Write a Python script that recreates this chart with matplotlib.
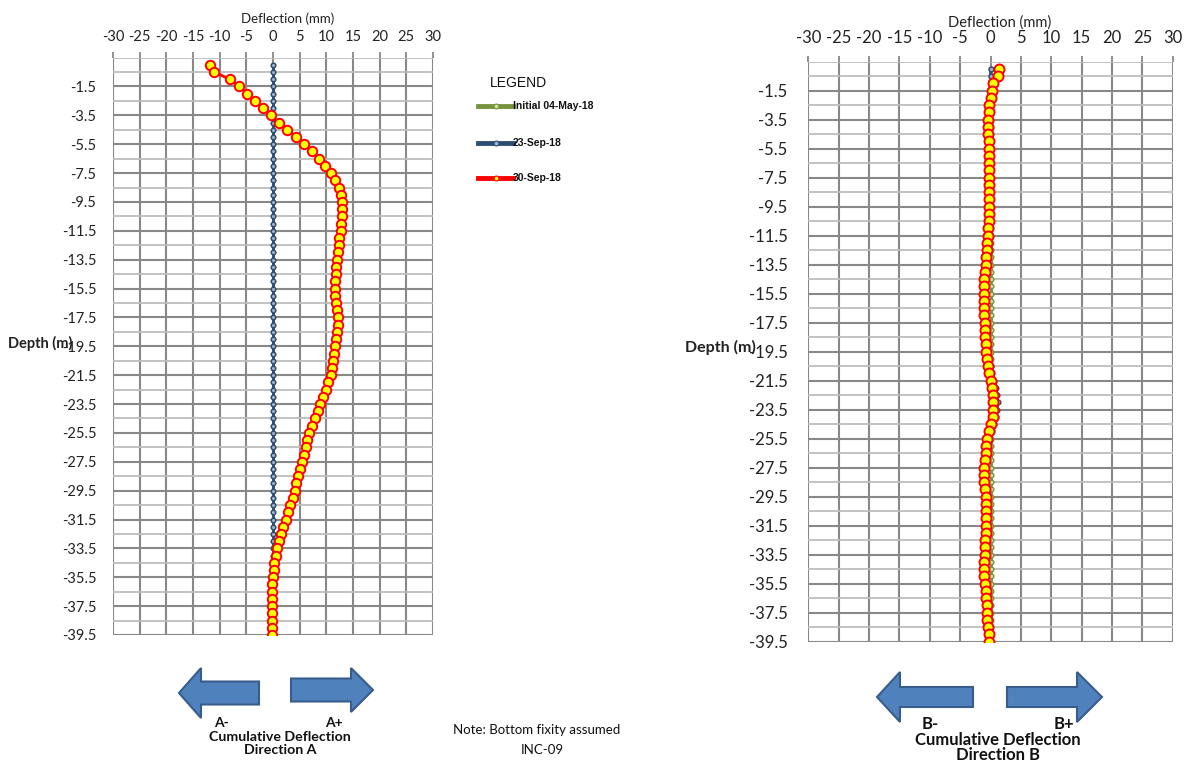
import matplotlib
matplotlib.use("Agg")
import matplotlib.pyplot as plt
from matplotlib import font_manager
from matplotlib.patches import Polygon
from matplotlib.lines import Line2D

names = {f.name for f in font_manager.fontManager.ttflist}
NARROW = [n for n in ["Lato", "Liberation Sans", "DejaVu Sans"] if n in names]
ARIAL = [n for n in ["Liberation Sans", "DejaVu Sans"] if n in names]
plt.rcParams["axes.unicode_minus"] = False

# ---------------- data ----------------
depth = [0.0, -0.5, -1.0, -1.5, -2.0, -2.5, -3.0, -3.5, -4.0, -4.5,
         -5.0, -5.5, -6.0, -6.5, -7.0, -7.5, -8.0, -8.5, -9.0, -9.5,
         -10.0, -10.5, -11.0, -11.5, -12.0, -12.5, -13.0, -13.5, -14.0, -14.5,
         -15.0, -15.5, -16.0, -16.5, -17.0, -17.5, -18.0, -18.5, -19.0, -19.5,
         -20.0, -20.5, -21.0, -21.5, -22.0, -22.5, -23.0, -23.5, -24.0, -24.5,
         -25.0, -25.5, -26.0, -26.5, -27.0, -27.5, -28.0, -28.5, -29.0, -29.5,
         -30.0, -30.5, -31.0, -31.5, -32.0, -32.5, -33.0, -33.5, -34.0, -34.5,
         -35.0, -35.5, -36.0, -36.5, -37.0, -37.5, -38.0, -38.5, -39.0, -39.5]

# Direction A
a_initial = [0.0] * 80
a_sep23 = [0.0] * 80
a_sep30 = [-11.9, -11.0, -8.1, -6.3, -4.8, -3.3, -1.8, -0.4, 1.2, 2.7,
           4.4, 5.9, 7.4, 8.7, 9.7, 10.8, 11.6, 12.4, 12.8, 12.9,
           12.9, 12.9, 12.8, 12.7, 12.4, 12.3, 12.2, 12.0, 11.9, 11.8,
           11.6, 11.6, 11.7, 11.9, 12.0, 12.2, 12.2, 12.0, 11.8, 11.6,
           11.4, 11.3, 11.1, 10.8, 10.4, 9.9, 9.4, 8.9, 8.4, 7.9,
           7.3, 6.8, 6.3, 6.1, 5.8, 5.4, 5.1, 4.7, 4.4, 4.1,
           3.7, 3.2, 2.8, 2.4, 1.9, 1.5, 1.1, 0.8, 0.5, 0.25,
           0.1, -0.05, -0.1, -0.1, -0.1, -0.1, -0.1, -0.1, -0.1, -0.1]

# Direction B
b_initial = [0.0] * 80
b_sep23 = [0.0, 0.0, 0.3, 0.3, 0.2, 0.0, -0.1, -0.15, -0.15, -0.15,
           -0.1, -0.05, -0.05, -0.05, -0.1, -0.1, -0.1, -0.1, -0.1, -0.1,
           -0.1, -0.1, -0.15, -0.2, -0.3, -0.4, -0.5, -0.6, -0.7, -0.8,
           -0.85, -0.9, -0.9, -0.9, -0.8, -0.75, -0.7, -0.65, -0.6, -0.4,
           -0.2, 0.0, 0.3, 0.6, 0.9, 1.1, 1.2, 1.1, 0.9, 0.6,
           0.2, -0.2, -0.5, -0.6, -0.7, -0.8, -0.85, -0.8, -0.7, -0.6,
           -0.55, -0.5, -0.5, -0.55, -0.6, -0.65, -0.7, -0.75, -0.8, -0.85,
           -0.8, -0.7, -0.6, -0.5, -0.4, -0.35, -0.3, -0.25, -0.15, -0.1]
b_sep30 = [1.45, 1.2, 0.4, 0.2, 0.0, -0.2, -0.3, -0.35, -0.35, -0.35,
           -0.3, -0.25, -0.25, -0.25, -0.3, -0.3, -0.3, -0.3, -0.3, -0.3,
           -0.3, -0.3, -0.35, -0.4, -0.5, -0.6, -0.7, -0.8, -0.9, -1.0,
           -1.05, -1.1, -1.1, -1.1, -1.0, -0.95, -0.9, -0.85, -0.8, -0.7,
           -0.5, -0.35, -0.2, 0.0, 0.2, 0.35, 0.45, 0.45, 0.35, 0.15,
           -0.2, -0.5, -0.7, -0.8, -0.9, -1.0, -1.1, -1.0, -0.9, -0.8,
           -0.75, -0.7, -0.7, -0.75, -0.8, -0.85, -0.9, -0.95, -1.0, -1.05,
           -1.0, -0.9, -0.8, -0.7, -0.6, -0.55, -0.5, -0.45, -0.3, -0.2]

x_ticks = [-30, -25, -20, -15, -10, -5, 0, 5, 10, 15, 20, 25, 30]
y_ticks = [-1.5, -3.5, -5.5, -7.5, -9.5, -11.5, -13.5, -15.5, -17.5, -19.5,
           -21.5, -23.5, -25.5, -27.5, -29.5, -31.5, -33.5, -35.5, -37.5, -39.5]
y_minor = [0.5, -0.5, -2.5, -4.5, -6.5, -8.5, -10.5, -12.5, -14.5, -16.5, -18.5,
           -20.5, -22.5, -24.5, -26.5, -28.5, -30.5, -32.5, -34.5, -36.5, -38.5]

series_labels = ["Initial 04-May-18", "23-Sep-18", "30-Sep-18"]

GREEN = "#77933C"
BLUE = "#2C4D75"
RED = "#FF0000"
YELLOW = "#FFFF00"

W, H = 1186, 763
fig = plt.figure(figsize=(W / 100, H / 100), dpi=100)


def px_rect(x0, x1, ytop, ybot):
    return [x0 / W, 1 - ybot / H, (x1 - x0) / W, (ybot - ytop) / H]


def make_panel(rect, init, s23, s30, fs, pad_x, pad_y, ms_red, ms_blue):
    ax = fig.add_axes(rect)
    ax.set_xlim(-30, 30)
    ax.set_ylim(-39.5, 0.5)
    ax.xaxis.tick_top()
    ax.set_xticks(x_ticks)
    ax.set_xticklabels([str(v) for v in x_ticks], fontsize=fs, family=NARROW, color="#222222")
    ax.set_yticks(y_ticks)
    ax.set_yticklabels([f"{v:.1f}" for v in y_ticks], fontsize=fs, family=NARROW, color="#222222")
    ax.tick_params(axis="x", length=4, color="#888888", width=1.3, pad=pad_x)
    ax.tick_params(axis="y", length=0, pad=pad_y)
    for s in ax.spines.values():
        s.set_visible(False)
    for v in x_ticks:
        ax.axvline(v, color="#888888", lw=1.5, zorder=1)
    for v in y_ticks:
        ax.axhline(v, color="#888888", lw=1.5, zorder=1)
    for v in y_minor:
        ax.axhline(v, color="#BDBDBD", lw=1.3, zorder=1)
    ax.plot(init, depth, color=GREEN, lw=2, marker="o", ms=ms_blue, mfc="#CDE0A8",
            mec=GREEN, mew=1, zorder=3)
    ax.plot(s23, depth, color=BLUE, lw=2, marker="o", ms=ms_blue, mfc="#9FB3CC",
            mec=BLUE, mew=1, zorder=4)
    ax.plot(s30, depth, color=RED, lw=2, marker="o", ms=ms_red, mfc=YELLOW,
            mec=RED, mew=1.4, zorder=5)
    return ax


axL = make_panel(px_rect(113, 433, 57.6, 635), a_initial, a_sep23, a_sep30,
                 10.5, 6, 12, 6.8, 3.2)
axR = make_panel(px_rect(808.3, 1172.7, 61.7, 641.7), b_initial, b_sep23, b_sep30,
                 12, 7, 15, 7.2, 3.4)

# overlay for annotations in pixel coordinates
ov = fig.add_axes([0, 0, 1, 1], zorder=10)
ov.set_xlim(0, W)
ov.set_ylim(H, 0)
ov.axis("off")
ov.patch.set_alpha(0)

ov.text(288, 19, "Deflection (mm)", ha="center", va="center", fontsize=9.5, family=NARROW, color="#222222")
ov.text(1000, 23, "Deflection (mm)", ha="center", va="center", fontsize=10.5, family=NARROW, color="#222222")
ov.text(8, 343, "Depth (m)", ha="left", va="center", fontsize=10.5, family=NARROW,
        weight="bold", color="#222222")
ov.text(685, 347, "Depth (m)", ha="left", va="center", fontsize=11.5, family=NARROW,
        weight="bold", color="#222222")

# legend
ov.text(490, 83, "LEGEND", ha="left", va="center", fontsize=10, family=ARIAL, color="#111111")
leg_y = [106, 143, 178]
leg_styles = [(GREEN, "#CDE0A8", GREEN), (BLUE, "#9FB3CC", BLUE), (RED, YELLOW, RED)]
for yy, lab, (lc, fc, ec) in zip(leg_y, series_labels, leg_styles):
    ov.add_line(Line2D([478, 513], [yy, yy], color=lc, lw=3.5))
    ov.plot([495.5], [yy], marker="o", ms=3.5, mfc=fc, mec=ec, mew=0.8)
    ov.text(513, yy, lab, ha="left", va="center", fontsize=7.5, family=ARIAL,
            weight="bold", color="#111111")


def arrow(x_tail, x_tip, yc, head_len, head_half, body_half):
    d = 1 if x_tip > x_tail else -1
    xb = x_tip - d * head_len
    pts = [(x_tail, yc - body_half), (xb, yc - body_half), (xb, yc - head_half),
           (x_tip, yc), (xb, yc + head_half), (xb, yc + body_half), (x_tail, yc + body_half)]
    ov.add_patch(Polygon(pts, closed=True, fc="#4F81BD", ec="#385D8A", lw=1.5))


arrow(259, 179, 693, 22, 25, 11.5)
arrow(291, 373, 690, 22, 22, 11.5)
arrow(973, 877, 697, 23, 25, 10)
arrow(1007, 1102, 697, 25, 25, 10)

bold = dict(ha="center", va="center", family=NARROW, weight="bold", color="#111111")
ov.text(221, 723, "A-", fontsize=10, **bold)
ov.text(334, 723, "A+", fontsize=10, **bold)
ov.text(280, 737, "Cumulative Deflection", fontsize=10.2, **bold)
ov.text(280, 750, "Direction A", fontsize=10.2, **bold)
ov.text(930, 724, "B-", fontsize=12, **bold)
ov.text(1064, 724, "B+", fontsize=12, **bold)
ov.text(998, 740, "Cumulative Deflection", fontsize=12, **bold)
ov.text(998, 755, "Direction B", fontsize=12, **bold)

ov.text(537, 730, "Note: Bottom fixity assumed", ha="center", va="center", fontsize=9.5,
        family=NARROW, color="#111111")
ov.text(542, 750, "INC-09", ha="center", va="center", fontsize=9.5, family=NARROW, color="#111111")

fig.savefig("out.png", dpi=100)
